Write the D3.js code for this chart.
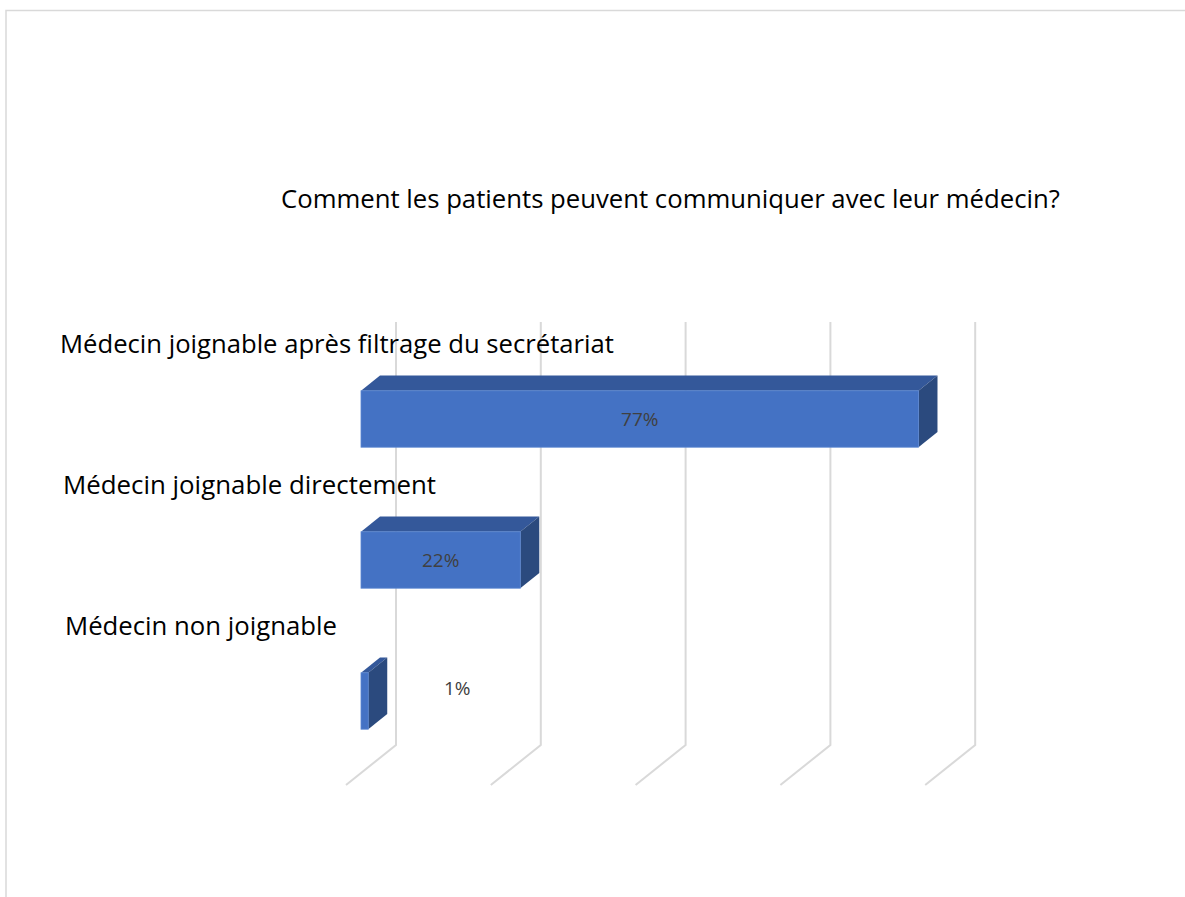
<!DOCTYPE html>
<html>
<head>
<meta charset="utf-8">
<script src="https://cdn.jsdelivr.net/npm/d3@7"></script>
<style>
  body { margin: 0; background: #fff; }
  text { font-family: "Open Sans", "Noto Sans", sans-serif; }
</style>
</head>
<body>
<script>
// data
var categories = ["Médecin joignable après filtrage du secrétariat", "Médecin joignable directement", "Médecin non joignable"];
var values = [0.77, 0.22, 0.01];
var valueLabels = ["77%", "22%", "1%"];
var gridTicks = [0, 0.2, 0.4, 0.6, 0.8];
var title = "Comment les patients peuvent communiquer avec leur médecin?";

var svgWidth = 1185;
var svgHeight = 897;

// oblique 3d offsets (full depth of the plot box)
var depthX = 50, depthY = -40;
var barFront = 0.3, barBack = 0.68;   // bar sits between these depth fractions

var svg = d3.select("body")
  .append("svg")
  .attr("width", svgWidth)
  .attr("height", svgHeight);

// chart border
svg.append("rect")
  .attr("x", 6).attr("y", 10.5)
  .attr("width", 1300).attr("height", 1000)
  .attr("fill", "none")
  .attr("stroke", "#d9d9d9")
  .attr("stroke-width", 1.5);

// scales are on the plane of the bars' front face
var xScale = d3.scaleLinear()
  .domain([0, 0.8])
  .range([361, 361 + 0.8 * 724]);

var yScale = d3.scaleBand()
  .domain(categories)
  .range([348.5, 771.5])
  .paddingInner(0.6)
  .paddingOuter(0.3);

var floorY = 773;
var backDx = (1 - barFront) * depthX, backDy = (1 - barFront) * depthY;
var frontDx = -barFront * depthX, frontDy = -barFront * depthY;

// gridlines on the back wall + floor
var grid = svg.append("g")
  .attr("stroke", "#d9d9d9")
  .attr("stroke-width", 2)
  .attr("fill", "none");

grid.selectAll("path")
  .data(gridTicks)
  .join("path")
  .attr("d", function(d) {
    var x = xScale(d);
    return "M" + (x + backDx) + "," + 322 +
      "L" + (x + backDx) + "," + (floorY + backDy) +
      "L" + (x + frontDx) + "," + (floorY + frontDy);
  });

// bars
var bd = (barBack - barFront);
var bdx = bd * depthX, bdy = bd * depthY;

var bars = svg.append("g").selectAll("g")
  .data(values)
  .join("g");

// top face
bars.append("path")
  .attr("fill", "#34589A")
  .attr("d", function(d, i) {
    var x0 = xScale(0), x1 = xScale(d), y = yScale(categories[i]);
    return "M" + x0 + "," + y + "L" + (x0 + bdx) + "," + (y + bdy) +
      "L" + (x1 + bdx) + "," + (y + bdy) + "L" + x1 + "," + y + "Z";
  });

// side face
bars.append("path")
  .attr("fill", "#2B4A7E")
  .attr("d", function(d, i) {
    var x1 = xScale(d), y = yScale(categories[i]), h = yScale.bandwidth();
    return "M" + x1 + "," + y + "L" + (x1 + bdx) + "," + (y + bdy) +
      "L" + (x1 + bdx) + "," + (y + h + bdy) + "L" + x1 + "," + (y + h) + "Z";
  });

// front face
bars.append("rect")
  .attr("x", xScale(0))
  .attr("y", function(d, i) { return yScale(categories[i]); })
  .attr("width", function(d) { return xScale(d) - xScale(0); })
  .attr("height", yScale.bandwidth())
  .attr("fill", "#4472C4")
  .attr("stroke", "#5A86D2")
  .attr("stroke-width", 0.8);

// value labels (small bars get theirs outside, a bit higher)
bars.append("text")
  .attr("x", function(d) {
    var w = xScale(d) - xScale(0);
    return w > 60 ? xScale(0) + w / 2 : xScale(d) + 89;
  })
  .attr("y", function(d, i) {
    var w = xScale(d) - xScale(0);
    var yc = yScale(categories[i]) + yScale.bandwidth() / 2 + 7;
    return w > 60 ? yc : yc - 13;
  })
  .attr("text-anchor", "middle")
  .attr("font-size", 19)
  .attr("fill", "#404040")
  .text(function(d, i) { return valueLabels[i]; });

// fit text to a target width
function fitText(sel, target) {
  var size = +sel.attr("font-size");
  var w = sel.node().getComputedTextLength();
  sel.attr("font-size", (size * target / w).toFixed(2));
}

// category labels
var labelX = [60, 63, 65];
var labelW = [554, 373, 272];
svg.append("g").selectAll("text")
  .data(categories)
  .join("text")
  .attr("x", function(d, i) { return labelX[i]; })
  .attr("y", function(d) { return yScale(d) - 38; })
  .attr("font-size", 22)
  .attr("fill", "#000")
  .text(function(d) { return d; })
  .each(function(d, i) { fitText(d3.select(this), labelW[i]); });

// title
var t = svg.append("text")
  .attr("x", 281)
  .attr("y", 208)
  .attr("font-size", 24)
  .attr("fill", "#000")
  .text(title);
fitText(t, 779);
</script>
</body>
</html>
